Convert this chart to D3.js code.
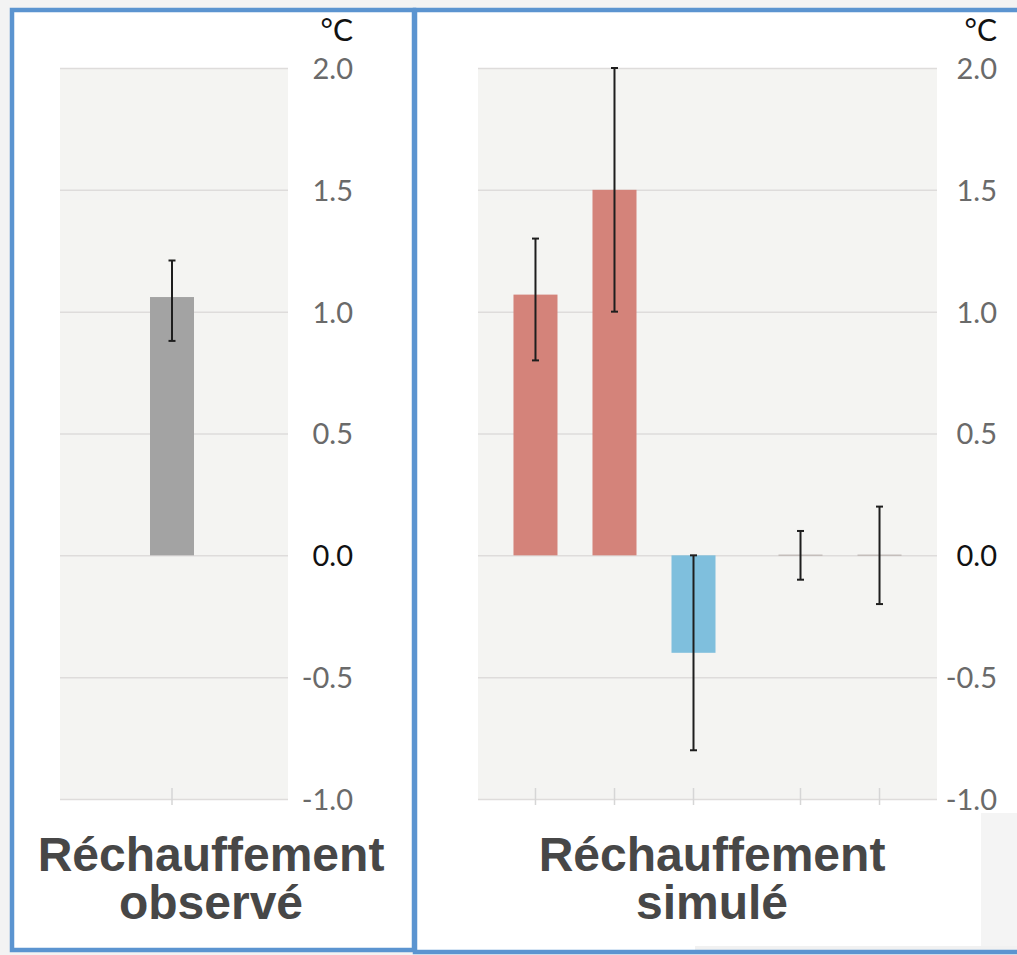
<!DOCTYPE html>
<html lang="fr">
<head>
<meta charset="utf-8">
<script src="https://cdn.jsdelivr.net/npm/d3@7"></script>
<style>
  html, body { margin: 0; padding: 0; background: #f3f3f3; }
  svg { display: block; }
</style>
</head>
<body>
<script>
// Valeurs (°C) : réchauffement observé et contributions simulées, avec intervalles
const observedCategories = ["Réchauffement observé"];
const observedValues = [1.06];
const observedLow = [0.88];
const observedHigh = [1.21];

const simulatedCategories = [
  "Influence humaine totale",
  "Gaz à effet de serre",
  "Autres facteurs humains",
  "Facteurs solaires et volcaniques",
  "Variabilité interne"
];
const simulatedGroups = ["humain", "humain", "humain", "naturel", "naturel"];
const simulatedValues = [1.07, 1.5, -0.4, 0, 0];
const simulatedLow = [0.8, 1.0, -0.8, -0.1, -0.2];
const simulatedHigh = [1.3, 2.0, 0.0, 0.1, 0.2];

const yTicks = [-1, -0.5, 0, 0.5, 1, 1.5, 2];
const unitLabel = "°C";
const titleObserved = ["Réchauffement", "observé"];
const titleSimulated = ["Réchauffement", "simulé"];

const W = 1017, H = 955;
const svg = d3.select("body").append("svg").attr("width", W).attr("height", H);

const BORDER = "#5b94d0";
const PLOT_BG = "#f4f4f2";
const GRID = "#dedcdb";
const TICK_GREY = "#6a6a6a";
const TITLE = "#474747";

// Panneaux
svg.append("rect").attr("x", 0).attr("y", 0).attr("width", W).attr("height", H).attr("fill", "#f3f3f3");
svg.append("rect").attr("x", 12).attr("y", 10).attr("width", 402).attr("height", 940)
  .attr("fill", "#fff");
svg.append("rect").attr("x", 415).attr("y", 10).attr("width", 640).attr("height", 942)
  .attr("fill", "#fff");
// petites zones grises du montage
svg.append("rect").attr("x", 981).attr("y", 813).attr("width", 40).attr("height", 135).attr("fill", "#f4f4f4");
svg.append("rect").attr("x", 695).attr("y", 946).attr("width", 330).attr("height", 5).attr("fill", "#f1f1f1");

const y = d3.scaleLinear().domain([-1, 2]).range([799, 68]);

function panel(opts) {
  const g = svg.append("g");
  const { x0, x1, labelX, x, cats, values, low, high, colorOf, title, titleX } = opts;

  g.append("rect").attr("x", x0).attr("y", y(2)).attr("width", x1 - x0)
    .attr("height", y(-1) - y(2)).attr("fill", PLOT_BG);

  // lignes de grille
  const grid = g.append("g").attr("transform", `translate(${x1},0)`)
    .call(d3.axisLeft(y).tickValues(yTicks).tickSize(x1 - x0).tickFormat(""));
  grid.select(".domain").remove();
  grid.selectAll(".tick line").attr("stroke", GRID).attr("stroke-width", 1.5);

  // graduations de l'axe des catégories
  g.selectAll(".xtick").data(cats).join("line")
    .attr("x1", d => x(d) + x.bandwidth() / 2).attr("x2", d => x(d) + x.bandwidth() / 2)
    .attr("y1", y(-1) - 11).attr("y2", y(-1) + 6)
    .attr("stroke", "#d6d6d6").attr("stroke-width", 1.5);

  // étiquettes de l'axe vertical
  const ax = g.append("g").attr("transform", `translate(${labelX},0)`)
    .call(d3.axisLeft(y).tickValues(yTicks).tickSize(0).tickPadding(0)
      .tickFormat(d => d.toFixed(1)));
  ax.select(".domain").remove();
  ax.selectAll(".tick text")
    .attr("font-family", "Lato, 'Open Sans', sans-serif")
    .attr("font-size", 29)
    .attr("fill", d => d === 0 ? "#111" : TICK_GREY)
    .attr("dy", "0.36em");

  g.append("text").attr("x", labelX).attr("y", 41).attr("text-anchor", "end")
    .attr("font-family", "Lato, 'Open Sans', sans-serif").attr("font-size", 30)
    .attr("fill", "#111").text(unitLabel);

  const rows = cats.map((c, i) => ({ c, v: values[i], lo: low[i], hi: high[i] }));

  // barres
  g.selectAll(".bar").data(rows.filter(d => d.v !== 0)).join("rect")
    .attr("x", d => x(d.c)).attr("width", x.bandwidth())
    .attr("y", d => y(Math.max(0, d.v)))
    .attr("height", d => Math.abs(y(d.v) - y(0)))
    .attr("fill", d => colorOf(d.v));
  g.selectAll(".zero").data(rows.filter(d => d.v === 0)).join("line")
    .attr("x1", d => x(d.c)).attr("x2", d => x(d.c) + x.bandwidth())
    .attr("y1", y(0)).attr("y2", y(0))
    .attr("stroke", "#c4bebb").attr("stroke-width", 1.5);

  // intervalles
  const eb = g.selectAll(".err").data(rows).join("g")
    .attr("transform", d => `translate(${x(d.c) + x.bandwidth() / 2},0)`)
    .attr("stroke", "#1e1e1e").attr("stroke-width", 2);
  eb.append("line").attr("y1", d => y(d.lo)).attr("y2", d => y(d.hi));
  eb.append("line").attr("x1", -3.5).attr("x2", 3.5).attr("y1", d => y(d.lo)).attr("y2", d => y(d.lo));
  eb.append("line").attr("x1", -3.5).attr("x2", 3.5).attr("y1", d => y(d.hi)).attr("y2", d => y(d.hi));

  // titre
  g.append("text").attr("x", titleX).attr("text-anchor", "middle")
    .attr("font-family", "'Liberation Sans', Arial, sans-serif").attr("font-weight", "bold")
    .attr("font-size", 48).attr("fill", TITLE)
    .selectAll("tspan").data(title).join("tspan")
    .attr("x", titleX).attr("y", (d, i) => 871 + i * 48).text(d => d);
}

// Panneau gauche : observé
const xObs = d3.scaleBand().domain(observedCategories).range([60, 284])
  .paddingInner(0).paddingOuter(2.045);
panel({
  x0: 60, x1: 288, labelX: 353, x: xObs,
  cats: observedCategories, values: observedValues, low: observedLow, high: observedHigh,
  colorOf: () => "#a3a3a3", title: titleObserved, titleX: 211
});

// Panneau droit : simulé (écart supplémentaire entre facteurs humains et naturels)
const groupGap = 28;
const xBase = d3.scaleBand().domain(simulatedCategories).range([478, 937 - groupGap])
  .paddingInner(0.443).paddingOuter(0.449);
const groupIndex = d3.scaleOrdinal().domain(["humain", "naturel"]).range([0, 1]);
const xSim = Object.assign(
  c => xBase(c) + groupIndex(simulatedGroups[simulatedCategories.indexOf(c)]) * groupGap,
  { bandwidth: () => xBase.bandwidth() }
);
panel({
  x0: 478, x1: 937, labelX: 997, x: xSim,
  cats: simulatedCategories, values: simulatedValues, low: simulatedLow, high: simulatedHigh,
  colorOf: v => v >= 0 ? "#d4837a" : "#7fbfdd", title: titleSimulated, titleX: 712
});

// Cadres bleus
svg.append("rect").attr("x", 12).attr("y", 10).attr("width", 402).attr("height", 940)
  .attr("fill", "none").attr("stroke", BORDER).attr("stroke-width", 4.5);
svg.append("rect").attr("x", 415).attr("y", 10).attr("width", 640).attr("height", 942)
  .attr("fill", "none").attr("stroke", BORDER).attr("stroke-width", 4.5);
</script>
</body>
</html>
